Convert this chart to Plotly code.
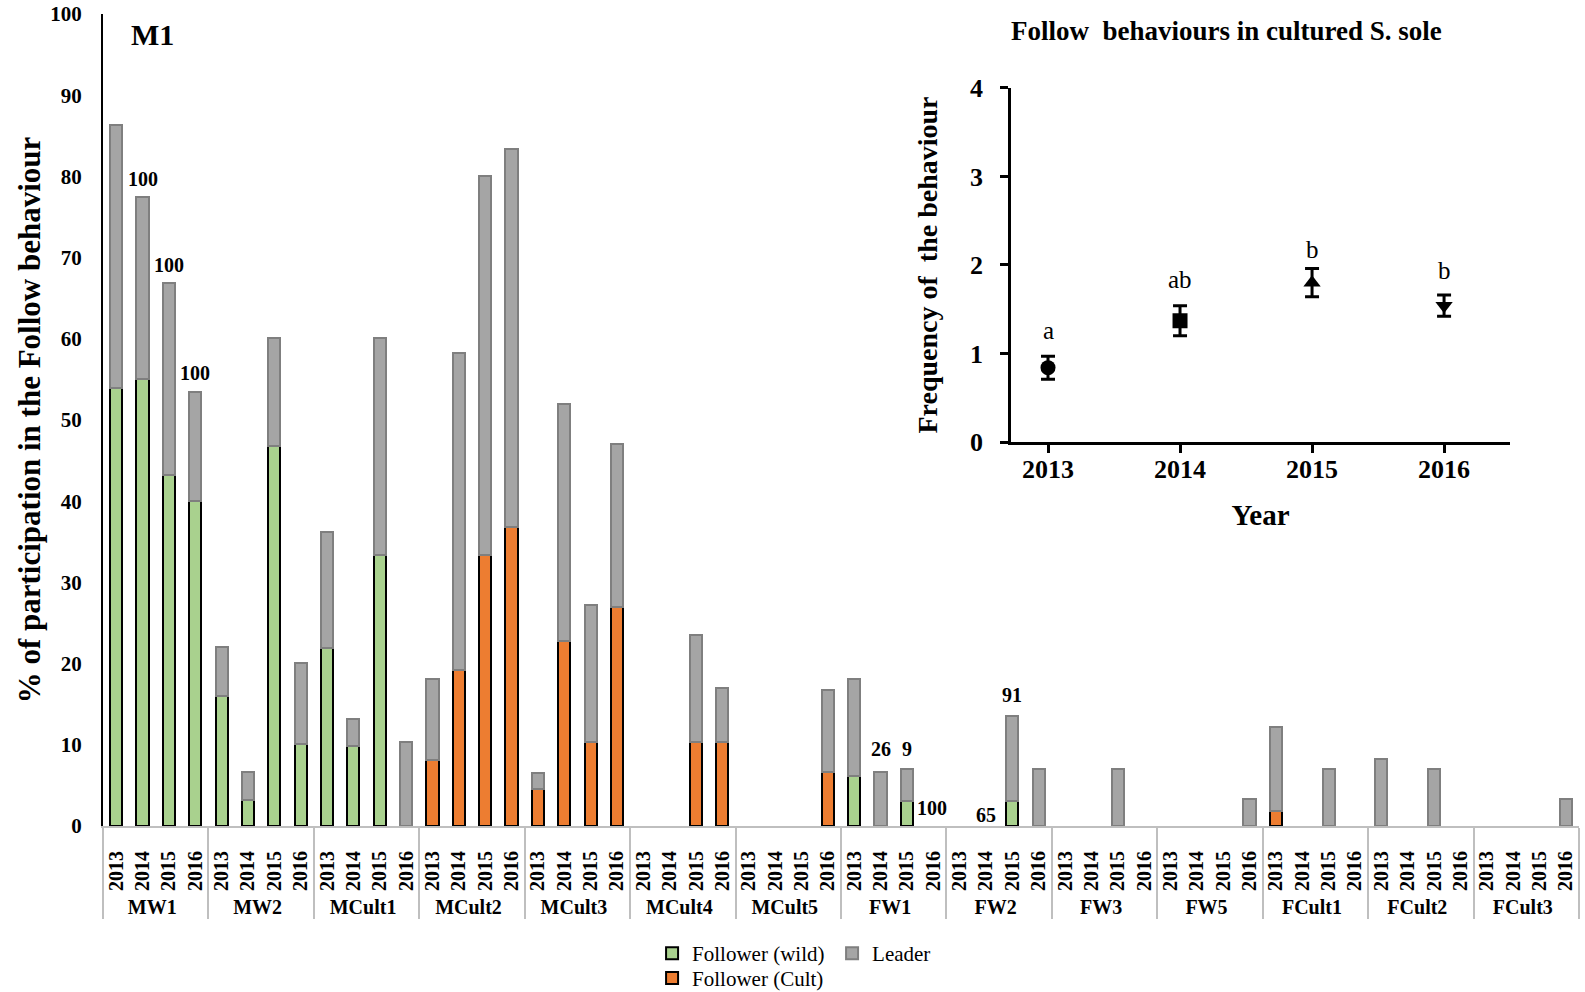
import plotly.graph_objects as go

# ---------------- data ----------------
groups = ["MW1", "MW2", "MCult1", "MCult2", "MCult3", "MCult4", "MCult5",
          "FW1", "FW2", "FW3", "FW5", "FCult1", "FCult2", "FCult3"]
years = ["2013", "2014", "2015", "2016"]

N = None
follower_wild = [
    54.0, 55.1, 43.2, 40.0,   # MW1
    16.0, 3.2, 46.8, 10.1,    # MW2
    21.9, 9.8, 33.4, N,       # MCult1
    N, N, N, N,               # MCult2
    N, N, N, N,               # MCult3
    N, N, N, N,               # MCult4
    N, N, N, N,               # MCult5
    6.1, N, 3.1, N,           # FW1
    N, N, 3.1, N,             # FW2
    N, N, N, N,               # FW3
    N, N, N, N,               # FW5
    N, N, N, N,               # FCult1
    N, N, N, N,               # FCult2
    N, N, N, N,               # FCult3
]
follower_cult = [
    N, N, N, N,               # MW1
    N, N, N, N,               # MW2
    N, N, N, N,               # MCult1
    8.1, 19.2, 33.4, 36.8,    # MCult2
    4.5, 22.8, 10.3, 27.0,    # MCult3
    N, N, 10.3, 10.3,         # MCult4
    N, N, N, 6.7,             # MCult5
    N, N, N, N,               # FW1
    N, N, N, N,               # FW2
    N, N, N, N,               # FW3
    N, N, N, N,               # FW5
    1.8, N, N, N,             # FCult1
    N, N, N, N,               # FCult2
    N, N, N, N,               # FCult3
]
leader = [
    32.3, 22.4, 23.7, 13.5,   # MW1
    6.1, 3.4, 13.3, 10.0,     # MW2
    14.3, 3.4, 26.7, 10.3,    # MCult1
    10.0, 39.0, 46.7, 46.6,   # MCult2
    2.0, 29.2, 16.9, 20.1,    # MCult3
    N, N, 13.2, 6.7,          # MCult4
    N, N, N, 10.1,            # MCult5
    12.0, 6.6, 3.9, N,        # FW1
    N, N, 10.4, 7.0,          # FW2
    N, N, 7.0, N,             # FW3
    N, N, N, 3.3,             # FW5
    10.4, N, 7.0, N,          # FCult1
    8.3, N, 7.0, N,           # FCult2
    N, N, N, 3.3,             # FCult3
]

# value labels written above some bars
bar_labels = ["100", "100", "100", "26", "9", "100", "65", "91"]
label_group = ["MW1", "MW1", "MW1", "FW1", "FW1", "FW1", "FW2", "FW2"]
label_year = ["2014", "2015", "2016", "2014", "2015", "2015", "2014", "2015"]
label_y = [79.7, 69.1, 55.8, 9.5, 9.5, 2.2, 1.3, 16.1]
label_xshift = [0, 0, 0, 0, 0, 25, 0, 0]

# inset
inset_years = [2013, 2014, 2015, 2016]
inset_mean = [0.84, 1.37, 1.80, 1.54]
inset_err = [0.13, 0.17, 0.16, 0.12]
inset_symbols = ["circle", "square", "triangle-up", "triangle-down"]
inset_letters = ["a", "ab", "b", "b"]
inset_letter_y = [1.26, 1.84, 2.17, 1.94]

# ---------------- figure ----------------
FONT = "Liberation Serif"
xcat = [[g for g in groups for _ in years], [y for _ in groups for y in years]]

fig = go.Figure()
fig.add_trace(go.Bar(x=xcat, y=follower_wild, name="Follower (wild)",
                     marker=dict(color="#A9D18E", line=dict(color="black", width=2)),
                     legend="legend"))
fig.add_trace(go.Bar(x=xcat, y=follower_cult, name="Follower (Cult)",
                     marker=dict(color="#ED7D31", line=dict(color="black", width=2)),
                     legend="legend2"))
fig.add_trace(go.Bar(x=xcat, y=leader, name="Leader",
                     marker=dict(color="#A5A5A5", line=dict(color="#7F7F7F", width=2)),
                     legend="legend"))

fig.add_trace(go.Scatter(
    x=inset_years, y=inset_mean, mode="markers", xaxis="x2", yaxis="y2",
    marker=dict(symbol=inset_symbols, size=15, color="black"),
    error_y=dict(type="data", array=inset_err, color="black", thickness=3, width=7),
    showlegend=False))

annotations = []
for t, g, yr, yv, dx in zip(bar_labels, label_group, label_year, label_y, label_xshift):
    idx = groups.index(g) * 4 + years.index(yr)
    annotations.append(dict(x=idx, y=yv, xref="x", yref="y", text=t, showarrow=False,
                            xshift=dx, xanchor="center", yanchor="middle",
                            font=dict(family=FONT, size=20, color="black", weight="bold")))
for xv, t, yv in zip(inset_years, inset_letters, inset_letter_y):
    annotations.append(dict(x=xv, y=yv, xref="x2", yref="y2", text=t, showarrow=False,
                            xanchor="center", yanchor="middle",
                            font=dict(family=FONT, size=25, color="black")))
annotations.append(dict(x=0.0332, y=0.975, xref="paper", yref="paper", text="M1",
                        showarrow=False, xanchor="center", yanchor="middle",
                        font=dict(family=FONT, size=30, color="black", weight="bold")))
annotations.append(dict(x=0.7615, y=0.979, xref="paper", yref="paper",
                        text="Follow\u00a0 behaviours in cultured S. sole",
                        showarrow=False, xanchor="center", yanchor="middle",
                        font=dict(family=FONT, size=27, color="black", weight="bold")))

fig.update_layout(
    width=1585, height=992,
    margin=dict(l=103, r=6, t=14, b=166, autoexpand=False),
    paper_bgcolor="white", plot_bgcolor="white",
    barmode="stack", bargap=0.54,
    font=dict(family=FONT, color="black"),
    annotations=annotations,
    xaxis=dict(type="multicategory", showline=True, linecolor="#BFBFBF", linewidth=2,
               showdividers=True, dividercolor="#BFBFBF", dividerwidth=2,
               tickangle=-90, ticks="", showgrid=False, ticklabelstandoff=15,
               tickfont=dict(family=FONT, size=20, color="black", weight="bold")),
    yaxis=dict(range=[0, 100], tickvals=list(range(0, 101, 10)), showline=True,
               linecolor="black", linewidth=2, ticks="", showgrid=False, zeroline=False,
               ticklabelstandoff=15,
               tickfont=dict(family=FONT, size=21, color="black", weight="bold"),
               title=dict(text="% of participation in the Follow behaviour", standoff=0,
                          font=dict(family=FONT, size=31, color="black", weight="bold"))),
    xaxis2=dict(domain=[0.6152, 0.9533], anchor="y2", range=[2012.72, 2016.5],
                tickvals=inset_years, ticktext=[str(v) for v in inset_years],
                showline=True, linecolor="black", linewidth=2.5, ticks="outside",
                ticklen=8, tickwidth=2.5, tickcolor="black", showgrid=False, zeroline=False,
                ticklabelstandoff=-6,
                tickfont=dict(family=FONT, size=26, color="black", weight="bold"),
                title=dict(text="Year", standoff=22,
                           font=dict(family=FONT, size=29, color="black", weight="bold"))),
    yaxis2=dict(domain=[0.4729, 0.9089], anchor="x2", range=[0, 4], dtick=1,
                showline=True, linecolor="black", linewidth=2.5, ticks="outside",
                ticklen=8, tickwidth=2.5, tickcolor="black", showgrid=False, zeroline=False,
                ticklabelstandoff=12,
                tickfont=dict(family=FONT, size=26, color="black", weight="bold"),
                title=dict(text="Frequency of\u00a0 the behaviour", standoff=25,
                           font=dict(family=FONT, size=28, color="black", weight="bold"))),
    legend=dict(orientation="h", traceorder="normal", x=0.372, y=-0.157,
                xanchor="left", yanchor="middle",
                bgcolor="rgba(0,0,0,0)", entrywidth=135, entrywidthmode="pixels",
                font=dict(family=FONT, size=21, color="black")),
    legend2=dict(orientation="h", x=0.372, y=-0.1875, xanchor="left", yanchor="middle",
                 bgcolor="rgba(0,0,0,0)",
                 font=dict(family=FONT, size=21, color="black")),
)

fig.write_html("out.html")
